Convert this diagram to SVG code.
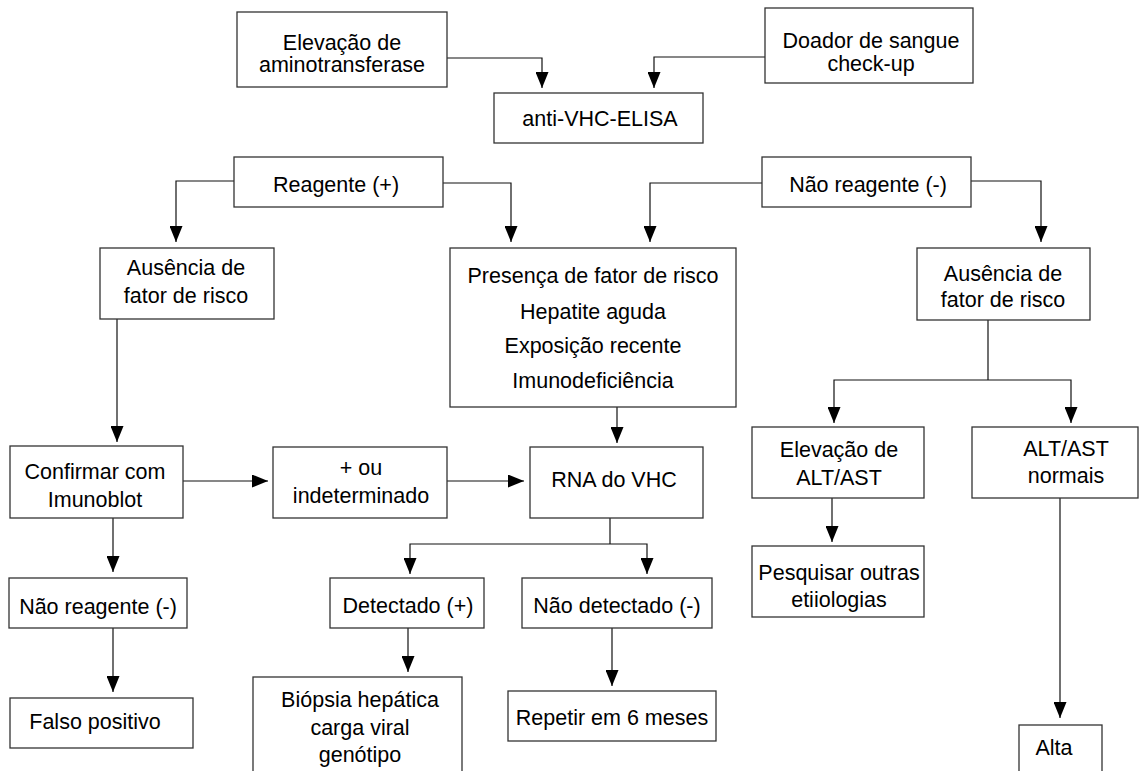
<svg xmlns="http://www.w3.org/2000/svg" width="1139" height="771" viewBox="0 0 1139 771">
<style>
.box{fill:#fff;stroke:#333;stroke-width:1.3}
.t{font-family:"Liberation Sans",Arial,sans-serif;font-size:21.5px;fill:#000;text-anchor:middle}
.c{fill:none;stroke:#111;stroke-width:1.2;marker-end:url(#ah)}
.l{fill:none;stroke:#111;stroke-width:1.2}
</style>
<defs>
<marker id="ah" viewBox="0 0 16 13" refX="16" refY="6.5" markerWidth="16" markerHeight="13" markerUnits="userSpaceOnUse" orient="auto">
<path d="M0,0 L16,6.5 L0,13 z" fill="#000"/>
</marker>
</defs>
<rect width="1139" height="771" fill="#fff"/>
<g id="connectors">
<path class="c" d="M447,58 H542 V88"/>
<path class="c" d="M765,57 H654 V88"/>
<path class="c" d="M234,181 H176 V242"/>
<path class="c" d="M443,183 H511 V242"/>
<path class="c" d="M762,183 H650 V242"/>
<path class="c" d="M971,181 H1041 V242"/>
<path class="c" d="M117,319 V442"/>
<path class="c" d="M617,407 V443"/>
<path class="c" d="M183,481 H268"/>
<path class="c" d="M447,481 H524"/>
<path class="c" d="M113,518 V572"/>
<path class="l" d="M610,518 V544"/>
<path class="c" d="M610,544 H410 V574"/>
<path class="c" d="M610,544 H647 V574"/>
<path class="c" d="M113,628 V692"/>
<path class="c" d="M408,628 V672"/>
<path class="c" d="M612,628 V686"/>
<path class="l" d="M988,320 V380"/>
<path class="c" d="M988,380 H834 V423"/>
<path class="c" d="M988,380 H1071 V423"/>
<path class="c" d="M832,498 V542"/>
<path class="c" d="M1060,498 V718"/>
</g>
<g id="n-elevacao-amino"><rect class="box" x="237" y="12" width="210" height="75"/><text class="t" x="342" y="50">Elevação de</text><text class="t" x="342" y="72">aminotransferase</text></g>
<g id="n-doador"><rect class="box" x="765" y="8" width="208" height="75"/><text class="t" x="871" y="48">Doador de sangue</text><text class="t" x="871" y="71">check-up</text></g>
<g id="n-elisa"><rect class="box" x="494" y="93" width="209" height="50"/><text class="t" x="600" y="126">anti-VHC-ELISA</text></g>
<g id="n-reagente"><rect class="box" x="234" y="157" width="209" height="50"/><text class="t" x="336" y="192">Reagente (+)</text></g>
<g id="n-nao-reagente"><rect class="box" x="762" y="157" width="209" height="50"/><text class="t" x="868" y="192">Não reagente (-)</text></g>
<g id="n-ausencia-esq"><rect class="box" x="100" y="248" width="174" height="71"/><text class="t" x="186" y="275">Ausência de</text><text class="t" x="186" y="303">fator de risco</text></g>
<g id="n-presenca"><rect class="box" x="450" y="248" width="286" height="159"/><text class="t" x="593" y="283">Presença de fator de risco</text><text class="t" x="593" y="319">Hepatite aguda</text><text class="t" x="593" y="353">Exposição recente</text><text class="t" x="593" y="388">Imunodeficiência</text></g>
<g id="n-ausencia-dir"><rect class="box" x="917" y="248" width="173" height="72"/><text class="t" x="1003" y="281">Ausência de</text><text class="t" x="1003" y="307">fator de risco</text></g>
<g id="n-confirmar"><rect class="box" x="10" y="446" width="173" height="72"/><text class="t" x="95" y="479">Confirmar com</text><text class="t" x="95" y="507">Imunoblot</text></g>
<g id="n-indeterminado"><rect class="box" x="273" y="447" width="174" height="71"/><text class="t" x="361" y="475">+ ou</text><text class="t" x="361" y="503">indeterminado</text></g>
<g id="n-rna"><rect class="box" x="530" y="447" width="173" height="71"/><text class="t" x="614" y="487">RNA do VHC</text></g>
<g id="n-elev-alt"><rect class="box" x="752" y="427" width="172" height="71"/><text class="t" x="839" y="457">Elevação de</text><text class="t" x="839" y="485">ALT/AST</text></g>
<g id="n-alt-normais"><rect class="box" x="972" y="427" width="166" height="71"/><text class="t" x="1066" y="456">ALT/AST</text><text class="t" x="1066" y="483">normais</text></g>
<g id="n-nao-reagente-2"><rect class="box" x="9" y="578" width="178" height="50"/><text class="t" x="98" y="614">Não reagente (-)</text></g>
<g id="n-detectado"><rect class="box" x="330" y="578" width="154" height="50"/><text class="t" x="408" y="613">Detectado (+)</text></g>
<g id="n-nao-detectado"><rect class="box" x="522" y="578" width="190" height="50"/><text class="t" x="617" y="613">Não detectado (-)</text></g>
<g id="n-pesquisar"><rect class="box" x="752" y="546" width="172" height="71"/><text class="t" x="839" y="580">Pesquisar outras</text><text class="t" x="839" y="607">etiiologias</text></g>
<g id="n-falso"><rect class="box" x="10" y="698" width="183" height="50"/><text class="t" x="95" y="729">Falso positivo</text></g>
<g id="n-biopsia"><rect class="box" x="253" y="677" width="209" height="110"/><text class="t" x="360" y="707">Biópsia hepática</text><text class="t" x="360" y="735">carga viral</text><text class="t" x="360" y="762">genótipo</text></g>
<g id="n-repetir"><rect class="box" x="508" y="691" width="208" height="50"/><text class="t" x="612" y="725">Repetir em 6 meses</text></g>
<g id="n-alta"><rect class="box" x="1019" y="725" width="83" height="60"/><text class="t" x="1054" y="755">Alta</text></g>
</svg>
